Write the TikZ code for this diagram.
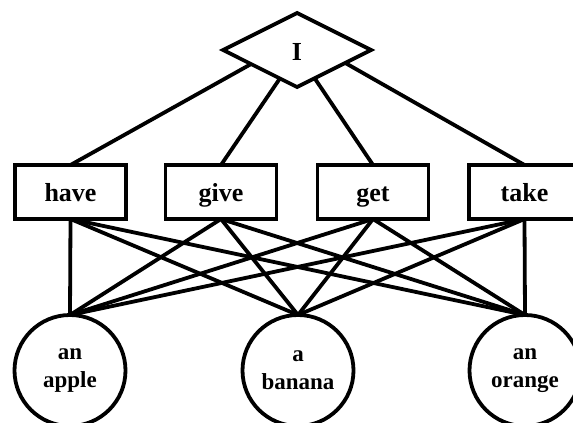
\documentclass[tikz,border=0pt]{standalone}
\usepackage{fontspec}
\setmainfont{Liberation Serif}[BoldFont={Liberation Serif Bold}]
\newfontfamily\tnrb{Liberation Serif Bold}
\usetikzlibrary{shapes.geometric}
\tikzset{
  lw/.style={line width=3.8pt},
  topnode/.style={draw, lw, diamond, minimum width=148pt, minimum height=74pt, inner sep=0pt, outer sep=0pt,
    text height=25pt, text depth=4pt, font=\tnrb\fontsize{26}{30}\selectfont},
  verbbox/.style={draw, lw, rectangle, minimum width=111pt, minimum height=54pt, inner sep=0pt, outer sep=0pt,
    text height=24pt, text depth=5pt, font=\tnrb\fontsize{26}{30}\selectfont},
  objcirc/.style={draw, lw, circle, minimum size=111pt, inner sep=0pt, outer sep=0pt, align=center,
    font=\tnrb\fontsize{23}{28}\selectfont},
  edge/.style={lw}
}
\begin{document}
\begin{tikzpicture}[x=1pt,y=-1pt]
\useasboundingbox (0,0) rectangle (573,423);
\node[topnode] (I) at (297,50) {I};
\node[verbbox] (have) at (70.5,192) {have};
\node[verbbox] (give) at (221,192) {give};
\node[verbbox] (get) at (373,192) {get};
\node[verbbox] (take) at (524.5,192) {take};
\node[objcirc] (apple) at (70,370.5) {an\\apple};
\node[objcirc] (banana) at (298,370.5) {a\\banana};
\node[objcirc] (orange) at (525,370.5) {an\\orange};
\draw[edge] (I.197) -- (have.north);
\draw[edge] (I.239) -- (give.north);
\draw[edge] (I.302) -- (get.north);
\draw[edge] (I.345) -- (take.north);
\foreach \v in {have,give,get,take}{
  \foreach \o in {apple,banana,orange}{
    \draw[edge] (\v.south) -- (\o.north);
  }
}
\end{tikzpicture}
\end{document}
